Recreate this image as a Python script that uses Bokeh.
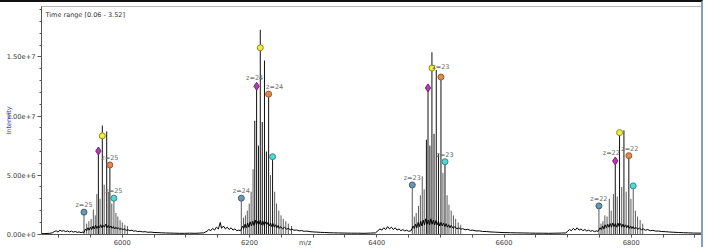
from bokeh.plotting import figure
from bokeh.models import FixedTicker, Label, Range1d, CustomJSTickFormatter
from bokeh.core.properties import value
from bokeh.embed import file_html
from bokeh.resources import INLINE

SCALE = 1e6  # intensities below are in units of 1e6

# ---- continuous baseline / noise trace (m/z, intensity x1e6) ----
base_mz = [5873, 5880, 5886, 5890, 5893, 5896, 5899, 5902, 5905, 5908, 5911, 5914, 5917, 5920, 5923, 5926,
           5929, 5932, 5935, 5938, 5940, 5942, 5944, 5946, 5948, 5950, 5952, 5954, 5956, 5958, 5960, 5962,
           5964, 5966, 5968, 5970, 5972, 5974, 5976, 5978, 5980, 5982, 5984, 5986, 5988, 5990, 5992, 5994,
           5996, 5998, 6000, 6003, 6006, 6009, 6012, 6015, 6018, 6021, 6024, 6028, 6032, 6036, 6040, 6045,
           6050, 6056, 6062, 6068, 6075, 6082, 6090, 6098, 6106, 6114, 6122, 6128, 6133, 6136, 6139, 6142,
           6145, 6148, 6151, 6154, 6156, 6159, 6162, 6165, 6168, 6171, 6174, 6177, 6180, 6183, 6186, 6189,
           6191, 6193, 6195, 6197, 6199, 6201, 6203, 6205, 6207, 6209, 6211, 6213, 6215, 6217, 6219, 6221,
           6223, 6225, 6227, 6229, 6231, 6233, 6235, 6237, 6239, 6241, 6243, 6245, 6247, 6249, 6252, 6255,
           6258, 6261, 6264, 6267, 6270, 6274, 6278, 6282, 6286, 6290, 6295, 6300, 6306, 6312, 6318, 6325,
           6332, 6340, 6350, 6360, 6370, 6380, 6390, 6398, 6402, 6405, 6408, 6411, 6414, 6417, 6420, 6423,
           6426, 6429, 6432, 6435, 6438, 6441, 6444, 6447, 6450, 6454, 6457, 6459, 6461, 6463, 6465, 6467,
           6469, 6471, 6473, 6475, 6477, 6479, 6481, 6483, 6485, 6487, 6489, 6491, 6493, 6495, 6497, 6499,
           6501, 6503, 6505, 6507, 6509, 6511, 6513, 6515, 6517, 6520, 6523, 6526, 6529, 6532, 6535, 6539,
           6543, 6547, 6551, 6556, 6561, 6566, 6572, 6578, 6585, 6592, 6600, 6610, 6620, 6630, 6640, 6650,
           6660, 6670, 6680, 6690, 6697, 6700, 6703, 6706, 6709, 6712, 6715, 6718, 6721, 6724, 6727, 6730,
           6733, 6736, 6739, 6742, 6745, 6748, 6751, 6753, 6755, 6757, 6759, 6761, 6763, 6765, 6767, 6769,
           6771, 6773, 6775, 6777, 6779, 6781, 6783, 6785, 6787, 6789, 6791, 6793, 6795, 6797, 6799, 6801,
           6803, 6805, 6807, 6810, 6813, 6816, 6819, 6822, 6826, 6830, 6834, 6838, 6843, 6848, 6854, 6860,
           6867, 6874, 6882, 6890, 6898, 6905, 6912]
base_int = [0.05, 0.06, 0.08, 0.12, 0.22, 0.30, 0.18, 0.35, 0.26, 0.31, 0.22, 0.28, 0.20, 0.27, 0.18, 0.24,
            0.16, 0.20, 0.14, 0.18, 0.15, 0.45, 0.30, 0.55, 0.35, 0.60, 0.40, 0.70, 0.45, 0.75, 0.50, 0.70,
            0.55, 0.80, 0.55, 0.75, 0.60, 0.85, 0.55, 0.75, 0.55, 0.70, 0.50, 0.65, 0.45, 0.60, 0.45, 0.55,
            0.40, 0.50, 0.38, 0.45, 0.33, 0.38, 0.30, 0.34, 0.26, 0.29, 0.23, 0.25, 0.20, 0.22, 0.17, 0.18,
            0.15, 0.14, 0.12, 0.11, 0.10, 0.09, 0.08, 0.08, 0.09, 0.08, 0.10, 0.12, 0.25, 0.40, 0.30, 0.50,
            0.35, 0.60, 0.45, 1.00, 0.50, 0.70, 0.45, 0.60, 0.40, 0.55, 0.35, 0.45, 0.30, 0.35, 0.30, 0.70,
            0.50, 0.85, 0.55, 0.95, 0.60, 1.05, 0.70, 1.10, 0.75, 1.20, 0.80, 1.10, 0.85, 1.20, 0.80, 1.10,
            0.75, 1.05, 0.80, 1.00, 0.70, 0.95, 0.65, 0.90, 0.60, 0.80, 0.55, 0.75, 0.50, 0.65, 0.45, 0.60,
            0.42, 0.50, 0.38, 0.42, 0.34, 0.36, 0.29, 0.31, 0.25, 0.27, 0.22, 0.20, 0.18, 0.16, 0.15, 0.13,
            0.12, 0.11, 0.10, 0.09, 0.09, 0.08, 0.10, 0.12, 0.30, 0.45, 0.35, 0.55, 0.40, 0.65, 0.45, 0.60,
            0.40, 0.55, 0.35, 0.45, 0.30, 0.40, 0.28, 0.35, 0.25, 0.30, 0.70, 0.50, 0.85, 0.55, 1.00, 0.65,
            1.10, 0.70, 1.20, 0.80, 1.30, 0.85, 1.20, 0.80, 1.30, 0.85, 1.20, 0.80, 1.15, 0.80, 1.10, 0.70,
            1.00, 0.70, 0.95, 0.65, 0.90, 0.60, 0.80, 0.55, 0.75, 0.50, 0.65, 0.45, 0.55, 0.42, 0.48, 0.38,
            0.42, 0.33, 0.35, 0.28, 0.29, 0.24, 0.23, 0.20, 0.18, 0.16, 0.14, 0.13, 0.12, 0.11, 0.10, 0.09,
            0.09, 0.08, 0.09, 0.10, 0.12, 0.25, 0.40, 0.30, 0.50, 0.35, 0.55, 0.35, 0.45, 0.30, 0.40, 0.28,
            0.35, 0.25, 0.32, 0.22, 0.28, 0.25, 0.55, 0.40, 0.70, 0.45, 0.80, 0.55, 0.85, 0.60, 0.90, 0.60,
            0.95, 0.65, 0.90, 0.60, 0.95, 0.65, 0.90, 0.60, 0.85, 0.60, 0.80, 0.55, 0.75, 0.50, 0.70, 0.48,
            0.65, 0.45, 0.60, 0.42, 0.52, 0.38, 0.45, 0.34, 0.40, 0.30, 0.33, 0.27, 0.27, 0.23, 0.22, 0.19,
            0.17, 0.15, 0.13, 0.12, 0.10, 0.10, 0.09]

# ---- isotope / adduct peaks (m/z, apex intensity x1e6) ----
peak_mz = [5939.8, 5944.0, 5947.5, 5951.0, 5954.5, 5957.5, 5960.0, 5962.4, 5965.0, 5968.6, 5971.5, 5975.5,
           5978.0, 5980.5, 5983.5, 5986.8, 5990.0, 5993.0, 5996.5, 6000.0, 6004.0, 6008.0,
           6187.1, 6190.5, 6193.5, 6196.5, 6199.5, 6202.5, 6205.5, 6208.2, 6211.1, 6214.0, 6216.9, 6220.0,
           6223.5, 6226.5, 6230.0, 6233.0, 6236.2, 6239.5, 6242.5, 6246.0, 6249.5, 6253.0, 6257.0, 6261.0,
           6266.0,
           6455.8, 6459.0, 6462.0, 6465.5, 6468.5, 6471.5, 6474.5, 6478.0, 6480.5, 6483.5, 6486.7, 6490.0,
           6493.5, 6497.0, 6500.9, 6504.0, 6507.2, 6510.5, 6513.5, 6517.0, 6520.5, 6524.0, 6528.0, 6532.0,
           6749.2, 6752.5, 6755.5, 6758.5, 6762.0, 6765.5, 6768.5, 6772.0, 6774.9, 6778.0, 6781.6, 6785.0,
           6788.5, 6792.0, 6796.2, 6799.5, 6803.1, 6806.5, 6810.0, 6814.0, 6818.0]
peak_int = [1.87, 0.9, 1.1, 1.3, 2.1, 1.6, 3.4, 7.2, 3.0, 9.2, 4.2, 8.7,
            3.6, 6.0, 2.6, 3.1, 1.8, 1.5, 1.2, 1.0, 0.8, 0.7,
            3.05, 1.4, 1.6, 2.0, 2.6, 3.6, 5.5, 9.6, 12.8, 7.5, 17.3, 9.5,
            14.7, 7.0, 12.0, 5.0, 6.6, 3.6, 2.6, 2.0, 1.6, 1.3, 1.1, 0.9,
            0.7,
            4.17, 1.5, 1.8, 2.4, 3.3, 4.9, 3.8, 8.0, 12.6, 7.5, 15.4, 8.5,
            13.9, 6.8, 13.4, 5.2, 6.3, 3.3, 2.5, 2.0, 1.6, 1.3, 1.0, 0.8,
            2.4, 0.9, 1.1, 1.6, 1.5, 3.0, 2.0, 3.4, 6.3, 3.2, 8.75, 4.0,
            8.8, 3.6, 6.8, 3.0, 4.2, 2.0, 1.5, 1.2, 0.9]

# ---- annotated charge-state peaks (one per series, four charge states) ----
charges = [25, 24, 23, 22]
ser_blue_mz = [5939.8, 6187.1, 6455.8, 6749.2]
ser_blue_int = [1.87, 3.05, 4.17, 2.40]
ser_magenta_mz = [5962.4, 6211.1, 6480.5, 6774.9]
ser_magenta_int = [7.04, 12.52, 12.38, 6.20]
ser_yellow_mz = [5968.6, 6216.9, 6486.7, 6781.6]
ser_yellow_int = [8.33, 15.78, 14.06, 8.60]
ser_orange_mz = [5980.5, 6230.0, 6500.9, 6796.2]
ser_orange_int = [5.86, 11.85, 13.30, 6.65]
ser_cyan_mz = [5986.8, 6236.2, 6507.2, 6803.1]
ser_cyan_int = [3.05, 6.56, 6.14, 4.09]

# charge labels: (series, group index)
label_refs = [("blue", 0), ("orange", 0), ("cyan", 0),
              ("blue", 1), ("magenta", 1), ("orange", 1),
              ("blue", 2), ("yellow", 2), ("cyan", 2),
              ("blue", 3), ("magenta", 3), ("orange", 3)]

x_major = [6000, 6200, 6400, 6600, 6800]
x_minor = [5900, 5950, 6000, 6050, 6100, 6150, 6200, 6250, 6300, 6350, 6400, 6450, 6500, 6550, 6600,
           6650, 6700, 6750, 6800, 6850, 6900]
x_title = "m/z"
x_title_at = 6287.5   # the axis title sits in the tick-label row, between 6200 and 6400
y_major = [0, 5e6, 1e7, 1.5e7]
y_minor = [1e6, 2e6, 3e6, 4e6, 6e6, 7e6, 8e6, 9e6, 1.1e7, 1.2e7, 1.3e7, 1.4e7, 1.6e7, 1.7e7, 1.8e7, 1.9e7]
y_title = "Intensity"
plot_title = "Time range [0.06 - 3.52]"

FONT = "DejaVu Sans"

p = figure(width=703, height=247, x_range=Range1d(5873, 6912), y_range=Range1d(-0.02e6, 19.27e6),
           output_backend="svg", toolbar_location=None,
           min_border_left=41, min_border_right=1, min_border_top=4, min_border_bottom=14,
           styles={"border-top": "2px solid #111111", "border-right": "2px solid #7fa3bf"})
p.background_fill_color = "white"
p.border_fill_color = "white"
p.outline_line_color = "#b5b5b5"
p.outline_line_width = 1
p.grid.visible = False

# spectrum: strong peaks drawn dark, weaker ones lighter (as rendered by the viewer)
strong = [i for i, v in enumerate(peak_int) if v >= 6.0]
weak = [i for i, v in enumerate(peak_int) if v < 6.0]
for idx, col in ((weak, "#5a5a5a"), (strong, "#111111")):
    xs = [peak_mz[i] for i in idx]
    p.segment(x0=xs, y0=[0] * len(xs), x1=xs, y1=[peak_int[i] * SCALE for i in idx],
              line_color=col, line_width=1)
p.line(base_mz, [v * SCALE for v in base_int], line_color="#000000", line_width=1)

series = {
    "blue": (ser_blue_mz, ser_blue_int, "circle", "#6a96b4", "#3e5f78", 6),
    "magenta": (ser_magenta_mz, ser_magenta_int, "diamond", "#b23bb0", "#7a2078", 8),
    "yellow": (ser_yellow_mz, ser_yellow_int, "circle", "#f2ee3c", "#8f8c1c", 6),
    "orange": (ser_orange_mz, ser_orange_int, "circle", "#e08a52", "#9a5a30", 6),
    "cyan": (ser_cyan_mz, ser_cyan_int, "circle", "#55d6d6", "#2f8c8c", 6),
}
for name, (mz, it, marker, fc, lc, sz) in series.items():
    p.scatter(mz, [v * SCALE for v in it], marker=marker, size=sz, fill_color=fc, line_color=lc, line_width=1)

# charge labels
label_style = {  # pixel nudges to avoid overlap
    ("blue", 0): (0, 7), ("orange", 0): (0, 7), ("cyan", 0): (0, 7),
    ("blue", 1): (0, 7), ("magenta", 1): (-2, 8), ("orange", 1): (6, 7),
    ("blue", 2): (0, 7), ("yellow", 2): (9, 1), ("cyan", 2): (0, 7),
    ("blue", 3): (0, 7), ("magenta", 3): (-4, 8), ("orange", 3): (1, 7),
}
lx, ly, lt, xo, yo = [], [], [], [], []
for name, g in label_refs:
    mz, it = series[name][0], series[name][1]
    lx.append(mz[g]); ly.append(it[g] * SCALE); lt.append("z=%d" % charges[g])
    dx, dy = label_style[(name, g)]
    xo.append(dx); yo.append(-dy)
p.text(x=lx, y=ly, text=lt, x_offset=xo, y_offset=yo, text_font=value(FONT), text_font_size="6.5px",
       text_color="#6b6b6b", text_align="center", text_baseline="middle")

# axes
p.xaxis.ticker = FixedTicker(ticks=sorted(x_major + [x_title_at]), minor_ticks=x_minor)
p.xaxis.formatter = CustomJSTickFormatter(
    args=dict(pos=x_title_at, title=x_title),
    code="return Math.abs(tick - pos) < 0.01 ? title : tick.toFixed(0);")
p.yaxis.ticker = FixedTicker(ticks=y_major, minor_ticks=y_minor)
p.yaxis.formatter = CustomJSTickFormatter(code="return tick.toExponential(2);")
for ax in (p.xaxis[0], p.yaxis[0]):
    ax.axis_line_color = "#555555"
    ax.major_tick_line_color = "#555555"
    ax.minor_tick_line_color = "#555555"
    ax.major_label_text_font = FONT
    ax.major_label_text_font_size = "6.7px"
    ax.major_label_text_color = "#3a3a3a"
    ax.major_tick_in = 0
    ax.minor_tick_in = 0
p.xaxis.major_tick_out = 0
p.xaxis.minor_tick_out = 3
p.xaxis.major_label_standoff = 1
p.yaxis.major_tick_out = 4
p.yaxis.minor_tick_out = 2
p.yaxis.major_label_standoff = 2
p.yaxis.axis_label = y_title
p.yaxis.axis_label_text_font = FONT
p.yaxis.axis_label_text_font_size = "6.5px"
p.yaxis.axis_label_text_font_style = "normal"
p.yaxis.axis_label_text_color = "#4a4ab8"
p.yaxis.axis_label_standoff = -9

p.add_layout(Label(x=4, y=219.5, x_units="screen", y_units="screen", text=plot_title,
                   text_font=FONT, text_font_size="6.5px", text_color="#333333",
                   text_align="left", text_baseline="middle"))

open("out.html", "w").write(file_html(p, INLINE))
